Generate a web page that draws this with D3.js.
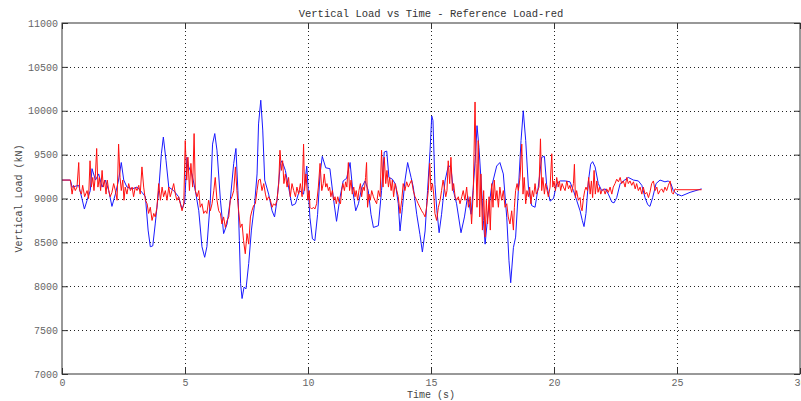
<!DOCTYPE html>
<html>
<head>
<meta charset="utf-8">
<script src="https://cdn.jsdelivr.net/npm/d3@7"></script>
<style>
    body { margin: 0; background: #fff; }
    svg { display: block; }
    text { font-family: "Liberation Mono", "DejaVu Sans Mono", monospace; }
</style>
</head>
<body>
<div id="chart"></div>
<script>
// Axis ticks
const xTicks = [0, 5, 10, 15, 20, 25, 30];
const yTicks = [7000, 7500, 8000, 8500, 9000, 9500, 10000, 10500, 11000];

// Measured vertical load (blue), [time s, load kN]
const measuredLoad = [
    [0.00, 9210], [0.34, 9210], [0.41, 9130], [0.68, 9150], [0.81, 9000], [0.91, 8880], [1.02, 8980],
    [1.15, 9090], [1.22, 9340], [1.36, 9210], [1.49, 9280], [1.63, 9130], [1.76, 9210], [1.90, 9090],
    [2.03, 8910], [2.17, 9050], [2.30, 9210], [2.41, 9410], [2.51, 9210], [2.64, 9130], [2.85, 9110],
    [3.05, 9130], [3.25, 9070], [3.39, 9020], [3.50, 8640], [3.59, 8450], [3.69, 8460], [3.79, 8710],
    [3.93, 9090], [4.04, 9510], [4.12, 9700], [4.23, 9430], [4.34, 9130], [4.54, 9090], [4.74, 9020],
    [4.88, 8880], [4.99, 8960], [5.08, 9470], [5.15, 9360], [5.28, 9280], [5.42, 9090], [5.56, 8860],
    [5.69, 8450], [5.80, 8330], [5.89, 8450], [6.03, 8980], [6.12, 9620], [6.21, 9740], [6.30, 9550],
    [6.44, 8980], [6.57, 8600], [6.71, 8710], [6.84, 8980], [6.98, 9400], [7.07, 9570], [7.15, 9090],
    [7.21, 8520], [7.26, 8030], [7.32, 7860], [7.40, 7990], [7.48, 7970], [7.59, 8260], [7.70, 8640],
    [7.83, 8940], [7.93, 9280], [7.99, 9850], [8.08, 10120], [8.16, 9780], [8.24, 9210], [8.40, 9050],
    [8.54, 8860], [8.64, 8790], [8.74, 8980], [8.88, 9400], [8.94, 9430], [9.08, 9320], [9.21, 9130],
    [9.35, 8920], [9.49, 8940], [9.65, 9090], [9.82, 9050], [9.95, 9370], [10.08, 8780], [10.18, 8540],
    [10.28, 8520], [10.39, 8820], [10.49, 9280], [10.58, 9480], [10.72, 9350], [10.89, 9340], [11.03, 9010],
    [11.16, 8740], [11.30, 9010], [11.43, 9200], [11.57, 9230], [11.71, 9410], [11.82, 9090], [11.94, 8860],
    [12.05, 8940], [12.19, 9130], [12.32, 9200], [12.45, 9090], [12.56, 8820], [12.66, 8670], [12.86, 8690],
    [12.99, 9090], [13.10, 9530], [13.20, 9540], [13.29, 9240], [13.43, 9220], [13.56, 9160], [13.67, 8940],
    [13.74, 8630], [13.84, 8900], [13.94, 9200], [14.05, 9410], [14.19, 9240], [14.28, 9130], [14.42, 8820],
    [14.55, 8590], [14.65, 8390], [14.76, 8630], [14.86, 9090], [14.96, 9540], [15.03, 9940], [15.08, 9890],
    [15.16, 9160], [15.24, 8860], [15.33, 8610], [15.43, 8820], [15.57, 9200], [15.71, 9380], [15.81, 9350],
    [15.91, 9090], [16.04, 8940], [16.22, 8610], [16.36, 8790], [16.49, 9030], [16.63, 8820], [16.72, 9130],
    [16.82, 9540], [16.87, 9830], [16.95, 9580], [17.06, 9090], [17.13, 8750], [17.20, 8480], [17.30, 8780],
    [17.46, 9130], [17.67, 9370], [17.80, 9410], [17.94, 9280], [18.08, 8780], [18.17, 8290], [18.24, 8040],
    [18.35, 8440], [18.44, 8560], [18.55, 9090], [18.66, 9660], [18.75, 10000], [18.85, 9660], [18.96, 9130],
    [19.09, 8920], [19.23, 8900], [19.36, 9130], [19.50, 9470], [19.61, 9480], [19.70, 9160], [19.84, 8970],
    [19.98, 9000], [20.11, 9170], [20.25, 9200], [20.45, 9200], [20.65, 9190], [20.79, 9090], [20.92, 8980],
    [21.06, 8860], [21.15, 8750], [21.22, 8680], [21.30, 8830], [21.40, 9200], [21.49, 9390], [21.57, 9420],
    [21.67, 9360], [21.80, 9170], [21.94, 9090], [22.08, 9110], [22.21, 9050], [22.35, 8960], [22.44, 8950],
    [22.55, 9010], [22.69, 9170], [22.82, 9200], [23.02, 9240], [23.23, 9210], [23.43, 9200], [23.57, 9150],
    [23.70, 9010], [23.81, 8930], [23.90, 8910], [24.01, 9010], [24.15, 9170], [24.31, 9210], [24.51, 9190],
    [24.65, 9200], [24.75, 9170], [24.85, 9090], [24.99, 9050], [25.19, 9030], [25.53, 9070], [26.00, 9110]
];

// Reference vertical load (red), [time s, load kN]
const referenceLoad = [
    [0.00, 9210], [0.34, 9210], [0.41, 9050], [0.47, 9150], [0.54, 9090], [0.61, 9130], [0.68, 9410],
    [0.72, 9090], [0.79, 9050], [0.84, 9150], [0.92, 9020], [1.02, 9090], [1.08, 9000], [1.14, 9430],
    [1.19, 9130], [1.25, 9240], [1.30, 9090], [1.36, 9280], [1.41, 9570], [1.46, 9130], [1.52, 9240],
    [1.57, 9090], [1.63, 9320], [1.68, 9130], [1.73, 9210], [1.79, 9050], [1.84, 9210], [1.90, 9090],
    [1.96, 9020], [2.03, 9070], [2.10, 9170], [2.17, 9090], [2.24, 8980], [2.30, 9620], [2.36, 9240],
    [2.41, 9090], [2.47, 9210], [2.52, 8980], [2.57, 9130], [2.64, 9050], [2.71, 9170], [2.78, 9090],
    [2.85, 9130], [2.91, 9020], [2.98, 9130], [3.05, 9090], [3.12, 9150], [3.18, 9050], [3.25, 9360],
    [3.32, 9130], [3.39, 8980], [3.46, 8940], [3.52, 8830], [3.59, 8900], [3.66, 8750], [3.73, 8830],
    [3.79, 8790], [3.86, 8900], [3.93, 9170], [4.00, 8980], [4.07, 9130], [4.13, 9020], [4.20, 9090],
    [4.27, 8980], [4.34, 9130], [4.40, 9020], [4.47, 9090], [4.54, 9170], [4.61, 9050], [4.67, 8980],
    [4.74, 9020], [4.81, 8940], [4.88, 8860], [4.95, 8940], [5.01, 9660], [5.07, 9210], [5.12, 9470],
    [5.18, 9090], [5.24, 9400], [5.31, 9130], [5.37, 9740], [5.42, 9090], [5.49, 9020], [5.56, 9090],
    [5.62, 8900], [5.69, 8940], [5.76, 8830], [5.83, 8860], [5.89, 8830], [5.96, 8980], [6.03, 8860],
    [6.10, 8940], [6.17, 9090], [6.23, 9240], [6.30, 8980], [6.37, 8860], [6.44, 8830], [6.50, 8710],
    [6.57, 8790], [6.64, 8670], [6.71, 8750], [6.78, 8790], [6.84, 8980], [6.91, 9020], [6.98, 9090],
    [7.05, 9360], [7.11, 9090], [7.18, 8860], [7.25, 8670], [7.32, 8710], [7.38, 8520], [7.45, 8370],
    [7.52, 8600], [7.59, 8480], [7.66, 8790], [7.72, 8860], [7.79, 8920], [7.86, 8940], [7.93, 9090],
    [7.99, 9210], [8.06, 9220], [8.13, 9090], [8.20, 9170], [8.27, 9050], [8.33, 8980], [8.40, 9020],
    [8.47, 8980], [8.54, 8900], [8.60, 8940], [8.67, 8920], [8.74, 8980], [8.81, 9170], [8.86, 9550],
    [8.92, 9320], [8.97, 9430], [9.02, 9170], [9.08, 9280], [9.15, 9130], [9.21, 9240], [9.28, 9020],
    [9.35, 9170], [9.42, 9090], [9.49, 9020], [9.55, 9130], [9.62, 9050], [9.69, 9170], [9.76, 9020],
    [9.82, 9620], [9.86, 9090], [9.92, 9280], [9.99, 8980], [10.05, 9090],
    [10.08, 8900], [10.15, 8880], [10.22, 8900], [10.28, 8880], [10.35, 8940], [10.42, 9130], [10.49, 9400],
    [10.56, 9090], [10.62, 9170], [10.66, 9280], [10.72, 9130], [10.77, 9170], [10.83, 9090], [10.88, 9130],
    [10.93, 9020], [10.99, 9090], [11.04, 8980], [11.10, 9020], [11.15, 8940], [11.21, 9020], [11.26, 8960],
    [11.32, 8940], [11.37, 9090], [11.42, 9170], [11.48, 9090], [11.53, 9190], [11.58, 9130], [11.64, 9410],
    [11.69, 9090], [11.75, 9210], [11.80, 9050], [11.86, 9130], [11.91, 9020], [11.96, 9090], [12.02, 8980],
    [12.07, 9090], [12.13, 9170], [12.18, 9020], [12.24, 9130], [12.29, 9090], [12.34, 9240], [12.38, 9410],
    [12.42, 8900], [12.48, 9050], [12.53, 8980], [12.59, 9090], [12.66, 9020], [12.72, 8980], [12.79, 8940],
    [12.86, 9090], [12.93, 9020], [12.99, 9550], [13.05, 9130], [13.10, 9470], [13.16, 9170], [13.21, 9320],
    [13.27, 9130], [13.32, 9240], [13.38, 9090], [13.43, 9210], [13.48, 9020], [13.54, 9170], [13.61, 9090],
    [13.67, 9020], [13.74, 8830], [13.81, 8980], [13.87, 9170], [13.94, 9090], [14.01, 9190], [14.08, 9130],
    [14.14, 9170], [14.21, 9210], [14.28, 9090], [14.35, 9020], [14.42, 8980], [14.48, 8940], [14.55, 8900],
    [14.62, 8860], [14.69, 8830], [14.76, 8790], [14.82, 8900], [14.89, 9090], [14.95, 9400], [15.00, 9090],
    [15.06, 9170], [15.11, 9050], [15.16, 8830], [15.23, 8750], [15.30, 8900], [15.37, 8980], [15.43, 9090],
    [15.49, 9210], [15.54, 9130], [15.60, 9020], [15.65, 9090], [15.70, 9430], [15.76, 9170], [15.81, 9470],
    [15.87, 9090], [15.92, 9170], [15.98, 9020], [16.04, 8980], [16.11, 9020], [16.18, 8940], [16.25, 9020],
    [16.31, 9090], [16.38, 8980], [16.45, 9130], [16.52, 8900], [16.59, 9020], [16.65, 8710], [16.72, 9090],
    [16.79, 10100], [16.83, 9400], [16.87, 8900], [16.92, 9660], [16.98, 8790], [17.03, 9280], [17.09, 8640],
    [17.14, 9090], [17.20, 8560], [17.25, 8980], [17.30, 8710], [17.36, 9020], [17.41, 8640], [17.47, 9170],
    [17.52, 8900], [17.57, 9210], [17.63, 8980], [17.68, 9090], [17.74, 8900], [17.80, 9130], [17.87, 8980],
    [17.94, 9090], [18.01, 8900], [18.08, 8940], [18.14, 8790], [18.21, 8710], [18.28, 8860], [18.35, 8640],
    [18.39, 8900], [18.44, 9090], [18.50, 9170], [18.55, 9090], [18.62, 9240], [18.69, 9620], [18.74, 9050],
    [18.79, 9240], [18.85, 8940], [18.90, 9090], [18.96, 9020], [19.01, 9130], [19.06, 8940], [19.12, 9090],
    [19.17, 9020], [19.23, 9170], [19.28, 9050], [19.34, 9090], [19.39, 9130], [19.45, 9680], [19.50, 9090],
    [19.55, 9240], [19.61, 9050], [19.66, 9170], [19.72, 9090], [19.77, 9020], [19.84, 9130], [19.91, 9510],
    [19.95, 9130], [20.00, 9200], [20.06, 9090], [20.11, 9240], [20.17, 9130], [20.22, 9200], [20.27, 9090],
    [20.33, 9170], [20.38, 9130], [20.45, 9090], [20.52, 9200], [20.59, 9110], [20.65, 9150], [20.72, 9070],
    [20.79, 9170], [20.83, 9390], [20.87, 9010], [20.92, 9090], [20.99, 8980], [21.06, 9010], [21.10, 8900],
    [21.14, 8860], [21.20, 9010], [21.25, 9090], [21.30, 9130], [21.36, 9090], [21.41, 9240], [21.47, 9050],
    [21.52, 9200], [21.57, 9010], [21.63, 9320], [21.68, 9050], [21.74, 9200], [21.79, 9070], [21.85, 9130],
    [21.90, 9050], [21.95, 9090], [22.01, 9110], [22.08, 9050], [22.14, 9110], [22.21, 9070], [22.28, 9130],
    [22.35, 9050], [22.41, 9130], [22.48, 9170], [22.55, 9220], [22.62, 9190], [22.69, 9240], [22.75, 9170],
    [22.82, 9200], [22.89, 9130], [22.96, 9240], [23.02, 9170], [23.09, 9200], [23.16, 9150], [23.23, 9190],
    [23.30, 9110], [23.36, 9170], [23.43, 9090], [23.50, 9130], [23.57, 9050], [23.63, 9130], [23.70, 9050],
    [23.77, 9070], [23.84, 9010], [23.90, 9070], [23.97, 9170], [24.04, 9200], [24.11, 9090], [24.18, 9130],
    [24.24, 9050], [24.31, 9090], [24.38, 9110], [24.45, 9070], [24.51, 9130], [24.58, 9090], [24.65, 9150],
    [24.72, 9200], [24.79, 9070], [24.85, 9050], [24.92, 9110], [24.99, 9100], [26.00, 9100]
];

const width = 801;
const height = 401;
const margin = { top: 23, right: 1, bottom: 27, left: 62 };

const svg = d3.select('#chart')
    .append('svg')
    .attr('width', width)
    .attr('height', height);

const x = d3.scaleLinear()
    .domain([0, 30])
    .range([margin.left, width - margin.right]);

const y = d3.scaleLinear()
    .domain([7000, 11000])
    .range([height - margin.bottom, margin.top]);

// Dotted grid
const grid = svg.append('g')
    .attr('stroke', '#222')
    .attr('stroke-width', 1)
    .attr('stroke-dasharray', '1,3');

grid.selectAll('line.gx')
    .data(xTicks.slice(1, -1))
    .join('line')
    .attr('class', 'gx')
    .attr('x1', d => Math.round(x(d)) + 0.5)
    .attr('x2', d => Math.round(x(d)) + 0.5)
    .attr('y1', y(11000))
    .attr('y2', y(7000));

grid.selectAll('line.gy')
    .data(yTicks.slice(1, -1))
    .join('line')
    .attr('class', 'gy')
    .attr('x1', x(0))
    .attr('x2', x(30))
    .attr('y1', d => Math.round(y(d)) + 0.5)
    .attr('y2', d => Math.round(y(d)) + 0.5);

// Data lines
const line = d3.line()
    .x(d => x(d[0]))
    .y(d => y(d[1]));

svg.append('path')
    .datum(measuredLoad)
    .attr('fill', 'none')
    .attr('stroke', '#1a1aff')
    .attr('stroke-width', 1)
    .attr('d', line);

svg.append('path')
    .datum(referenceLoad)
    .attr('fill', 'none')
    .attr('stroke', '#ff1010')
    .attr('stroke-width', 1)
    .attr('d', line);

// Axes with inward ticks
const styleAxis = g => {
    g.select('.domain').remove();
    g.selectAll('.tick line').attr('stroke', '#333');
    g.selectAll('.tick text')
        .attr('fill', '#666')
        .style('font-size', '10px')
        .style('font-family', '"Liberation Mono", "DejaVu Sans Mono", monospace');
};

svg.append('g')
    .attr('transform', `translate(0,${y(7000)})`)
    .call(d3.axisBottom(x).tickValues(xTicks).tickSize(-6).tickSizeOuter(0).tickPadding(5))
    .call(styleAxis);

svg.append('g')
    .attr('transform', `translate(0,${y(11000)})`)
    .call(d3.axisTop(x).tickValues(xTicks).tickSize(-6).tickSizeOuter(0).tickFormat(''))
    .call(styleAxis);

svg.append('g')
    .attr('transform', `translate(${x(0)},0)`)
    .call(d3.axisLeft(y).tickValues(yTicks).tickSize(-6).tickSizeOuter(0).tickPadding(4).tickFormat(d3.format('d')))
    .call(styleAxis);

svg.append('g')
    .attr('transform', `translate(${x(30)},0)`)
    .call(d3.axisRight(y).tickValues(yTicks).tickSize(-6).tickSizeOuter(0).tickFormat(''))
    .call(styleAxis);

// Frame
svg.append('rect')
    .attr('x', x(0))
    .attr('y', y(11000))
    .attr('width', x(30) - x(0))
    .attr('height', y(7000) - y(11000))
    .attr('fill', 'none')
    .attr('stroke', '#333')
    .attr('stroke-width', 1);

// Title and labels
const cx = (x(0) + x(30)) / 2;

svg.append('text')
    .attr('x', cx)
    .attr('y', 13)
    .attr('dy', '0.35em')
    .attr('text-anchor', 'middle')
    .attr('fill', '#333')
    .style('font-size', '10.5px')
    .text('Vertical Load vs Time - Reference Load-red');

svg.append('text')
    .attr('x', cx)
    .attr('y', 394)
    .attr('dy', '0.35em')
    .attr('text-anchor', 'middle')
    .attr('fill', '#444')
    .style('font-size', '10px')
    .text('Time (s)');

svg.append('text')
    .attr('transform', `translate(18,${(y(7000) + y(11000)) / 2}) rotate(-90)`)
    .attr('dy', '0.35em')
    .attr('text-anchor', 'middle')
    .attr('fill', '#444')
    .style('font-size', '10px')
    .text('Vertical Load (kN)');
</script>
</body>
</html>
